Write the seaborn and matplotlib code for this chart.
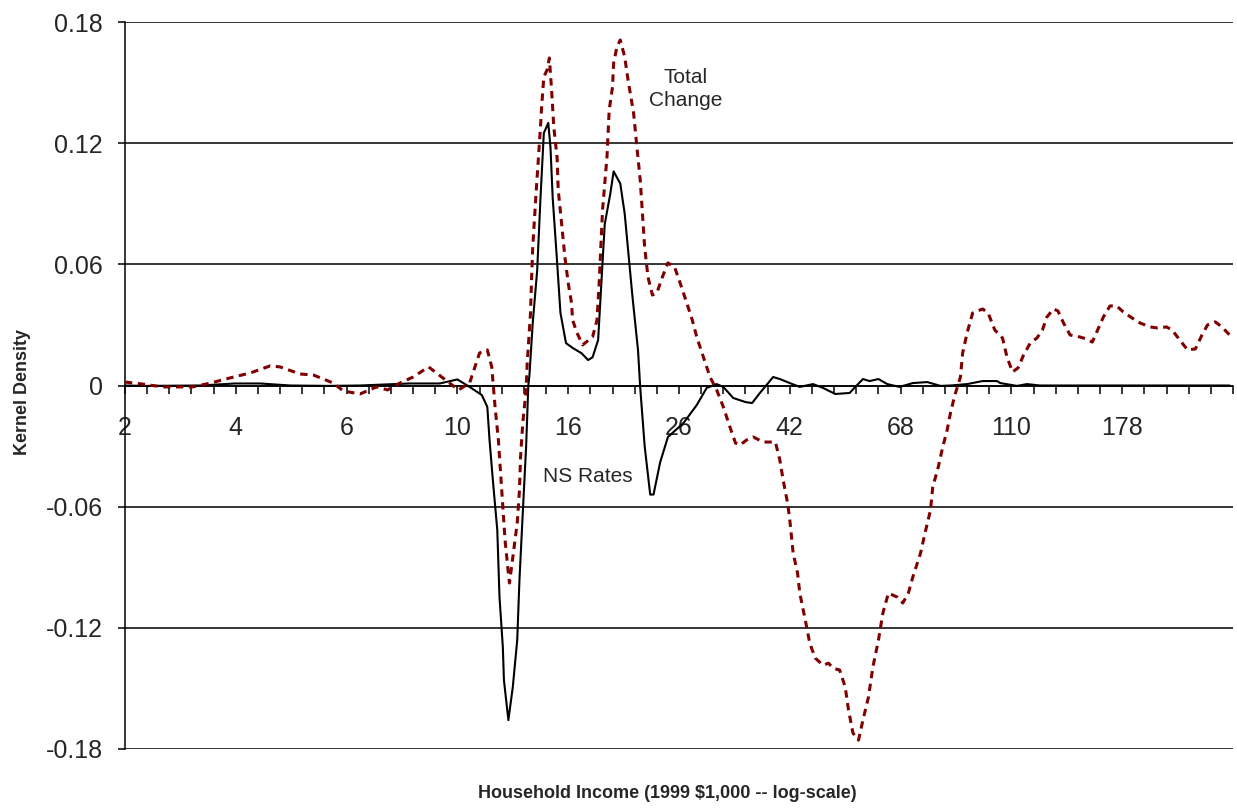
import matplotlib
matplotlib.use("Agg")
import matplotlib.pyplot as plt
import seaborn as sns
import pandas as pd
import numpy as np

# x positions along the log-income axis (one unit per labelled tick)
income_labels = ['2', '4', '6', '10', '16', '26', '42', '68', '110', '178']
density_ticks = [-0.18, -0.12, -0.06, 0, 0.06, 0.12, 0.18]
density_labels = ['-0.18', '-0.12', '-0.06', '0', '0.06', '0.12', '0.18']

total_x = [0.00, 0.16, 0.34, 0.61, 0.77, 0.98, 1.13, 1.31, 1.40, 1.58,
           1.70, 1.88, 1.97, 2.12, 2.27, 2.37, 2.48, 2.60, 2.74, 2.87,
           3.01, 3.11, 3.20, 3.27, 3.31, 3.34, 3.37, 3.39, 3.41, 3.43,
           3.46, 3.47, 3.50, 3.54, 3.56, 3.57, 3.59, 3.62, 3.63, 3.66,
           3.67, 3.68, 3.71, 3.73, 3.75, 3.76, 3.78, 3.81, 3.83, 3.85,
           3.87, 3.90, 3.91, 3.94, 3.97, 4.00, 4.03, 4.04, 4.08, 4.13,
           4.22, 4.26, 4.28, 4.31, 4.35, 4.37, 4.40, 4.41, 4.44, 4.47,
           4.51, 4.54, 4.59, 4.62, 4.65, 4.67, 4.69, 4.72, 4.76, 4.80,
           4.85, 4.90, 4.96, 5.01, 5.07, 5.12, 5.16, 5.22, 5.28, 5.34,
           5.40, 5.46, 5.51, 5.55, 5.61, 5.67, 5.76, 5.87, 5.91, 5.94,
           5.98, 6.00, 6.03, 6.07, 6.09, 6.14, 6.18, 6.23, 6.30, 6.35,
           6.39, 6.45, 6.50, 6.53, 6.57, 6.62, 6.66, 6.71, 6.75, 6.80,
           6.84, 6.89, 6.97, 7.02, 7.07, 7.11, 7.18, 7.22, 7.27, 7.29,
           7.34, 7.38, 7.42, 7.45, 7.49, 7.54, 7.56, 7.60, 7.65, 7.74,
           7.79, 7.85, 7.92, 7.96, 8.01, 8.06, 8.11, 8.17, 8.23, 8.28,
           8.32, 8.38, 8.42, 8.47, 8.53, 8.62, 8.68, 8.73, 8.77, 8.83,
           8.89, 8.95, 9.01, 9.09, 9.16, 9.25, 9.32, 9.40, 9.45, 9.52,
           9.59, 9.66, 9.72, 9.77, 9.84, 9.90, 9.97]
total_change = [0.0017, 0.0007, -0.0007, -0.0007, 0.0012, 0.0042, 0.0062, 0.0097, 0.0092, 0.0057,
                0.0052, 0.0012, -0.0027, -0.0042, -0.0007, -0.0022, 0.0012, 0.0042, 0.0092, 0.0037,
                -0.0022, 0.0012, 0.0161, 0.0176, 0.0092, -0.0106, -0.0270, -0.0433, -0.0602, -0.0765,
                -0.0929, -0.0978, -0.0850, -0.0681, -0.0518, -0.0354, -0.0186, -0.0022, 0.0111, 0.0359,
                0.0537, 0.0686, 0.0953, 0.1117, 0.1280, 0.1379, 0.1528, 0.1563, 0.1622, 0.1464,
                0.1280, 0.1127, 0.0968, 0.0805, 0.0636, 0.0508, 0.0409, 0.0324, 0.0260, 0.0201,
                0.0240, 0.0324, 0.0513, 0.0869, 0.1132, 0.1364, 0.1478, 0.1597, 0.1677, 0.1711,
                0.1627, 0.1513, 0.1350, 0.1181, 0.1018, 0.0854, 0.0686, 0.0537, 0.0448, 0.0458,
                0.0537, 0.0607, 0.0587, 0.0508, 0.0409, 0.0324, 0.0240, 0.0141, 0.0042, -0.0022,
                -0.0106, -0.0206, -0.0285, -0.0295, -0.0270, -0.0255, -0.0280, -0.0280, -0.0369, -0.0468,
                -0.0582, -0.0666, -0.0829, -0.0929, -0.1028, -0.1162, -0.1276, -0.1350, -0.1385, -0.1375,
                -0.1400, -0.1409, -0.1493, -0.1607, -0.1721, -0.1756, -0.1657, -0.1543, -0.1394, -0.1261,
                -0.1127, -0.1028, -0.1048, -0.1077, -0.1028, -0.0949, -0.0830, -0.0731, -0.0617, -0.0503,
                -0.0404, -0.0305, -0.0221, -0.0136, -0.0047, 0.0042, 0.0161, 0.0260, 0.0359, 0.0379,
                0.0359, 0.0275, 0.0235, 0.0141, 0.0067, 0.0087, 0.0151, 0.0210, 0.0235, 0.0275,
                0.0339, 0.0379, 0.0369, 0.0310, 0.0250, 0.0240, 0.0230, 0.0215, 0.0265, 0.0339,
                0.0394, 0.0394, 0.0364, 0.0334, 0.0310, 0.0290, 0.0285, 0.0290, 0.0275, 0.0225,
                0.0176, 0.0181, 0.0250, 0.0300, 0.0315, 0.0290, 0.0250]

ns_x = [0.00, 0.18, 0.68, 0.99, 1.22, 1.49, 1.85, 2.12, 2.57, 2.71,
        2.84, 3.00, 3.11, 3.22, 3.27, 3.29, 3.32, 3.36, 3.38, 3.41,
        3.42, 3.46, 3.50, 3.54, 3.56, 3.59, 3.62, 3.64, 3.65, 3.68,
        3.72, 3.75, 3.78, 3.82, 3.84, 3.86, 3.90, 3.93, 3.98, 4.04,
        4.12, 4.18, 4.22, 4.27, 4.31, 4.33, 4.38, 4.41, 4.47, 4.51,
        4.58, 4.63, 4.65, 4.69, 4.74, 4.77, 4.83, 4.90, 5.04, 5.16,
        5.25, 5.34, 5.40, 5.49, 5.60, 5.66, 5.73, 5.85, 5.91, 6.00,
        6.09, 6.21, 6.30, 6.41, 6.54, 6.60, 6.66, 6.72, 6.80, 6.88,
        6.99, 7.11, 7.24, 7.36, 7.45, 7.60, 7.74, 7.87, 7.90, 8.05,
        8.14, 8.26, 9.97]
ns_rates = [0.0, -0.0002, 0.0, 0.001, 0.001, 0.0, -0.0002, 0.0, 0.001, 0.001,
            0.001, 0.003, -0.0007, -0.0047, -0.0106, -0.027, -0.0468, -0.0716, -0.1048, -0.1295,
            -0.1459, -0.1657, -0.1493, -0.126, -0.0963, -0.0631, -0.0305, 0.0, 0.005, 0.031,
            0.057, 0.093, 0.125, 0.130, 0.118, 0.093, 0.061, 0.036, 0.021, 0.0186,
            0.016, 0.0126, 0.014, 0.0225, 0.061, 0.080, 0.095, 0.106, 0.100, 0.085,
            0.044, 0.0176, -0.001, -0.030, -0.054, -0.054, -0.038, -0.0255, -0.0186, -0.0097,
            -0.0012, 0.0007, -0.0007, -0.0062, -0.0082, -0.0087, -0.0037, 0.0042, 0.0032, 0.0012,
            -0.0007, 0.0007, -0.0012, -0.0042, -0.0037, -0.0002, 0.0032, 0.0022, 0.0032, 0.0007,
            -0.0007, 0.0012, 0.0017, -0.0002, 0.0, 0.0007, 0.0022, 0.0022, 0.0012, -0.0002,
            0.0007, 0.0, 0.0]

total_df = pd.DataFrame({'income': total_x, 'density': total_change})
ns_df = pd.DataFrame({'income': ns_x, 'density': ns_rates})

sns.set_style("white")
plt.rcParams['font.family'] = ['Liberation Sans', 'DejaVu Sans']

fig = plt.figure(figsize=(12.37, 8.09), dpi=100)
ax = fig.add_axes([125 / 1237, 1 - 749 / 809, (1233 - 125) / 1237, (749 - 22) / 809])

# gridlines
for yv in density_ticks:
    ax.axhline(yv, color='black', lw=1.1, zorder=1)

sns.lineplot(data=ns_df, x='income', y='density', ax=ax, color='black', lw=1.5, zorder=3)
sns.lineplot(data=total_df, x='income', y='density', ax=ax, color='#800000', lw=2.2,
             linestyle=(0, (2.4, 1.8)), zorder=4)

ax.set_xlim(0, 10)
ax.set_ylim(-0.18, 0.18)

ax.spines['top'].set_visible(False)
ax.spines['right'].set_visible(False)
ax.spines['bottom'].set_position(('data', 0))
ax.spines['left'].set_linewidth(1.1)
ax.spines['bottom'].set_linewidth(1.1)
ax.spines['left'].set_color('black')
ax.spines['bottom'].set_color('black')

ax.set_xticks(range(len(income_labels)))
ax.set_xticklabels(income_labels, fontsize=18)
ax.set_xticks(np.arange(0, 10.01, 0.2), minor=True)
ax.tick_params(axis='x', which='both', direction='out', length=6, width=1.1,
               color='black', bottom=True, pad=16)
ax.set_yticks(density_ticks)
ax.set_yticklabels(density_labels, fontsize=18)
ax.tick_params(axis='y', direction='out', length=5, width=1.1, color='black',
               left=True, pad=11)

ax.set_xlabel('')
ax.set_ylabel('')

ax.text(5.06, 0.147, 'Total\nChange', ha='center', va='center', fontsize=15,
        linespacing=1.25)
ax.text(4.18, -0.0453, 'NS Rates', ha='center', va='center', fontsize=15)

fig.text(0.5396, 1 - 793 / 809, 'Household Income (1999 $1,000 -- log-scale)',
         ha='center', va='center', fontsize=13, fontweight='bold')
fig.text(0.0178, 1 - 392 / 809, 'Kernel Density', ha='center', va='center',
         rotation=90, fontsize=13, fontweight='bold')

fig.savefig('out.png', dpi=100)
